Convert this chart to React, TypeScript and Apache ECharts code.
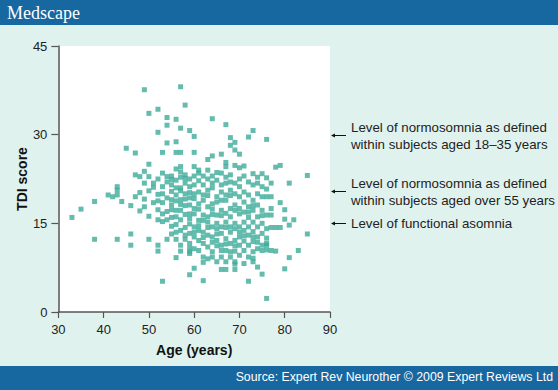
import React, { useEffect, useRef } from "react";
import * as echarts from "echarts";

// [age, TDI score]
const sparseLeft: [number, number][] = [
  [33, 16.0], [35, 17.4], [38, 18.7], [38, 12.3], [41, 19.8], [42, 19.5], [43, 19.8], [43, 21.2],
  [43, 20.6], [43, 12.3], [44, 18.7], [45, 27.7], [46, 18.0], [46, 13.2], [46, 11.3], [47, 26.9],
  [47, 19.5], [47, 23.2], [48, 22.9], [48, 17.1], [49, 37.6], [49, 19.1], [49, 17.8], [50, 33.6],
  [50, 25.0], [50, 22.9], [49, 21.8], [50, 16.2], [50, 12.3], [51, 21.8], [51, 21.1], [51, 18.5],
  [52, 34.3], [52, 30.4], [52, 18.8], [52, 17.3], [52, 15.6], [52, 11.3], [52, 10.3], [53, 27.0],
  [53, 18.5], [53, 15.3], [53, 5.2], [54, 32.9], [54, 31.6], [54, 28.6], [54, 22.9], [54, 22.0],
  [54, 15.6], [54, 12.3], [55, 18.1], [55, 17.3], [55, 13.2], [56, 32.6], [56, 28.8], [56, 27.0],
  [56, 18.8], [56, 16.1], [56, 13.5], [56, 12.3], [56, 9.2], [57, 38.1], [57, 31.1], [57, 27.0],
  [57, 24.6], [57, 11.3], [57, 10.3], [58, 35.0], [58, 12.3], [59, 30.7], [59, 10.2], [59, 6.3],
  [60, 29.7], [60, 27.0], [60, 24.6], [60, 7.4],
  [52, 22.5], [53, 23.5], [55, 23.0], [56, 24.2], [53, 21.2], [52, 19.9], [50, 20.5], [48, 20.2],
  [49, 23.8],
];

const sparseRight: [number, number][] = [
  [64, 32.7], [67, 31.7], [73, 30.7], [72, 29.6], [76, 29.2], [68, 29.5], [68, 28.2], [69, 28.7],
  [69, 27.4], [70, 26.7], [63, 25.8], [64, 26.4], [66, 26.7], [67, 25.3], [67, 24.6], [61, 24.0],
  [61, 23.5], [65, 23.6], [69, 24.8], [70, 24.4], [71, 24.7], [73, 23.4], [75, 23.4], [78, 24.5],
  [79, 24.8], [85, 23.1], [81, 21.8], [76, 22.7], [77, 21.8], [74, 21.8], [67, 22.8], [67, 21.8],
  [76, 2.3], [72, 5.2], [62, 5.3], [75, 6.4], [67, 7.2], [69, 7.2], [69, 8.1], [80, 7.3], [81, 9.2],
  [73, 9.1], [83, 10.4], [85, 13.2], [78, 10.3], [82, 15.6], [81, 14.7], [80, 15.7], [80, 17.3],
  [79, 18.5], [78, 14.3], [79, 14.3], [77, 16.4], [77, 19.5], [76, 11.3], [76, 10.5],
];

const upperBand: [number, number][] = [
  [55, 21.5], [56, 22.3], [57, 21.0], [58, 23.2], [58, 21.8], [59, 22.5], [59, 21.2], [60, 23.0],
  [60, 21.5], [61, 22.2], [62, 23.0], [62, 21.5], [63, 22.5], [63, 24.0], [64, 21.8], [64, 23.0],
  [65, 22.3], [66, 23.5], [66, 21.5], [68, 22.0], [68, 23.2], [69, 21.8], [70, 22.5], [70, 21.2],
  [71, 23.0], [72, 22.0], [73, 21.5], [74, 22.8], [75, 21.2], [76, 20.8],
  [53, 20.0], [54, 19.3], [55, 20.4], [55, 19.0], [56, 19.8], [57, 20.5], [57, 19.0], [57, 17.2],
  [58, 18.0], [58, 16.5], [58, 20.0], [57, 15.6], [56, 14.8], [58, 14.3], [55, 16.0], [54, 17.0],
  [53, 16.6], [58, 13.0],
  [55, 22.4], [55, 14.5], [56, 21.0], [56, 17.2], [57, 22.8], [57, 18.2], [57, 13.8], [57, 23.7],
  [58, 19.1], [58, 22.6],
];

const core59to66: [number, number][] = [
  [59, 20.2], [59, 19.3], [59, 18.1], [59, 16.6], [59, 15.8], [59, 14.9], [59, 13.3], [59, 11.6], [59, 10.8], [59, 9.9],
  [60, 20.0], [60, 19.2], [60, 17.5], [60, 16.6], [60, 14.4], [60, 13.5], [60, 12.7], [60, 10.7],
  [61, 20.3], [61, 18.3], [61, 17.4], [61, 15.5], [61, 14.6], [61, 13.8], [61, 12.1], [61, 10.4],
  [62, 19.8], [62, 18.9], [62, 16.4], [62, 15.5], [62, 13.5], [62, 12.6], [62, 11.6], [62, 9.3], [62, 8.4],
  [63, 20.6], [63, 19.7], [63, 17.8], [63, 16.1], [63, 15.2], [63, 14.3], [63, 13.0], [63, 11.0], [63, 9.0],
  [64, 21.0], [64, 18.3], [64, 17.4], [64, 16.5], [64, 14.4], [64, 12.7], [64, 11.8], [64, 10.2], [64, 9.3],
  [65, 19.5], [65, 18.6], [65, 16.4], [65, 15.0], [65, 14.1], [65, 13.2], [65, 12.1], [65, 11.2], [65, 8.5],
  [66, 20.3], [66, 18.9], [66, 17.2], [66, 16.3], [66, 14.4], [66, 13.3], [66, 11.3], [66, 10.4], [66, 9.3], [66, 7.2],
];

const core67to77: [number, number][] = [
  [67, 19.8], [67, 18.9], [67, 16.7], [67, 15.2], [67, 14.3], [67, 12.4], [67, 11.5], [67, 10.4], [67, 8.5],
  [68, 20.6], [68, 19.7], [68, 17.5], [68, 16.1], [68, 14.4], [68, 13.5], [68, 11.6], [68, 10.2], [68, 9.3],
  [69, 20.0], [69, 18.1], [69, 17.2], [69, 15.0], [69, 14.1], [69, 12.1], [69, 11.2], [69, 10.3], [69, 8.5],
  [70, 19.5], [70, 17.5], [70, 16.6], [70, 14.4], [70, 13.5], [70, 12.7], [70, 11.3], [70, 9.6],
  [71, 20.3], [71, 18.6], [71, 16.9], [71, 15.2], [71, 13.8], [71, 12.9], [71, 12.0], [71, 10.4], [71, 8.2],
  [72, 19.8], [72, 17.8], [72, 16.9], [72, 16.0], [72, 14.4], [72, 13.0], [72, 11.3], [72, 9.3],
  [73, 18.9], [73, 18.0], [73, 17.2], [73, 15.2], [73, 13.6], [73, 12.7], [73, 11.9], [73, 10.2], [73, 8.5],
  [74, 20.0], [74, 18.1], [74, 16.1], [74, 14.4], [74, 12.7], [74, 11.8], [74, 10.7], [74, 7.6],
  [75, 19.5], [75, 17.2], [75, 16.3], [75, 15.0], [75, 13.3], [75, 11.3], [75, 10.4],
  [76, 19.5], [76, 16.4], [76, 14.1], [76, 12.5], [76, 11.6],
  [77, 17.5], [77, 14.3], [77, 10.4],
];

const annotLevels = [30, 20.5, 15];
const annotTexts = [
  "Level of normosomnia as defined\nwithin subjects aged 18\u201335 years",
  "Level of normosomnia as defined\nwithin subjects aged over 55 years",
  "Level of functional asomnia",
];

const FONT = "'Liberation Sans', Arial, sans-serif";
const BLUE = "#1767a0";

export default function App() {
  const ref = useRef<HTMLDivElement>(null);
  useEffect(() => {
    document.body.style.margin = "0";
    const chart = echarts.init(ref.current!, null, { renderer: "svg" });
    const allPoints = [...sparseLeft, ...sparseRight, ...upperBand, ...core59to66, ...core67to77];
    chart.setOption({
      animation: false,
      backgroundColor: "#e0f2ed",
      grid: {
        left: 46, right: 228, top: 46, bottom: 78,
        show: true, backgroundColor: "#ffffff", borderWidth: 0,
      },
      xAxis: {
        type: "value", min: 30, max: 90, interval: 10,
        name: "Age (years)", nameLocation: "middle", nameGap: 31,
        nameTextStyle: { fontFamily: FONT, fontSize: 14, fontWeight: "bold", color: "#111" },
        axisLine: { show: true, lineStyle: { color: "#555", width: 1.5 } },
        axisTick: { show: true, length: 6, lineStyle: { color: "#555", width: 1.2 } },
        axisLabel: { margin: 11, fontFamily: FONT, fontSize: 13, color: "#222" },
        splitLine: { show: false },
      },
      yAxis: {
        type: "value", min: 0, max: 45, interval: 15,
        name: "TDI score", nameLocation: "middle", nameGap: 26,
        nameTextStyle: { fontFamily: FONT, fontSize: 14, fontWeight: "bold", color: "#111" },
        axisLine: { show: true, lineStyle: { color: "#555", width: 1.5 } },
        axisTick: { show: true, length: 7, lineStyle: { color: "#555", width: 1.2 } },
        axisLabel: { margin: 11, fontFamily: FONT, fontSize: 13, color: "#222" },
        splitLine: { show: false },
      },
      series: [
        {
          type: "scatter",
          symbol: "rect",
          symbolSize: 5,
          itemStyle: { color: "#3dab9a" },
          data: allPoints,
        },
      ],
    });

    const graphics: any[] = [
      { type: "rect", shape: { x: 0, y: 0, width: 558, height: 25 }, style: { fill: BLUE } },
      {
        type: "text", x: 7, y: 13,
        style: { text: "Medscape", fill: "#fff", font: "18px 'Liberation Serif', 'DejaVu Serif', serif", verticalAlign: "middle" },
      },
      { type: "rect", shape: { x: 0, y: 366, width: 558, height: 24 }, style: { fill: BLUE } },
      {
        type: "text", x: 553, y: 377,
        style: { text: "Source: Expert Rev Neurother \u00a9 2009 Expert Reviews Ltd", fill: "#fff", font: `12.3px ${FONT}`, align: "right", verticalAlign: "middle" },
      },
    ];
    annotLevels.forEach((lv, i) => {
      const p = chart.convertToPixel({ gridIndex: 0 }, [90, lv]) as number[];
      const ax = p[0] + 1;
      const ay = Math.round(p[1]) + 0.5;
      graphics.push({ type: "line", shape: { x1: ax + 2, y1: ay, x2: ax + 15, y2: ay }, style: { stroke: "#111", lineWidth: 1 } });
      graphics.push({ type: "polygon", shape: { points: [[ax, ay], [ax + 4, ay - 2], [ax + 4, ay + 2]] }, style: { fill: "#111" } });
      graphics.push({
        type: "text", x: ax + 20, y: ay,
        style: { text: annotTexts[i], fill: "#222", font: `13.3px ${FONT}`, verticalAlign: "middle", lineHeight: 17 },
      });
    });
    chart.setOption({ graphic: graphics });
    return () => chart.dispose();
  }, []);
  return <div ref={ref} style={{ position: "absolute", left: 0, top: 0, width: 558, height: 390 }} />;
}
